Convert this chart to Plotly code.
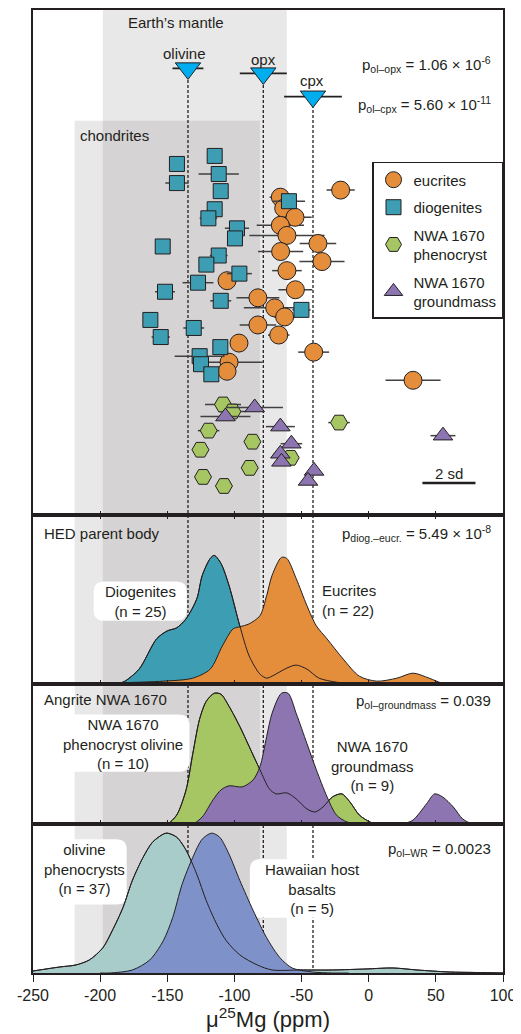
import plotly.graph_objects as go

# ---------------- data ----------------
X_TICKS = [-250, -200, -150, -100, -50, 0, 50, 100]
X_TICK_LABELS = ["-250", "-200", "-150", "-100", "-50", "0", "50", "100"]

# reference ranges (ppm)
MANTLE_RANGE = [-198, -61]
CHONDRITE_RANGE = [-219, -81]

# Earth's mantle minerals: mean, 2sd, vertical row
MINERALS = ["olivine", "opx", "cpx"]
MINERAL_MU = [-134.6, -78.5, -41.5]
MINERAL_ERR = [11.5, 17.5, 21.5]
MINERAL_ROW = [66, 71, 94]

# eucrites
EUC_MU = [-20.9, -65.8, -63.3, -54.9, -65.8, -60.9, -37.8, -65.6, -34.8, -60.9, -105.5,
          -54.6, -82.5, -70.0, -62.6, -82.5, -67.0, -96.6, -41.0, -104.0, -105.5, 33.0]
EUC_ERR = [10.5, 8, 0, 12.4, 17.6, 28, 13.6, 16.8, 16.8, 11, 6,
           12.6, 16, 23, 8, 13.6, 8, 0, 11.5, 25, 0, 20.5]
EUC_ROW = [187, 194, 205, 214, 222, 232, 240, 248, 258, 267, 277,
           286, 294, 304, 313, 321, 331, 339, 348, 358, 367, 376]

# diogenites
DIO_MU = [-142.8, -114.7, -142.8, -111.7, -110.2, -114.7, -119.4, -98.1, -99.6, -153.4, -111.7,
          -120.9, -96.3, -127.1, -151.7, -110.2, -50.1, -162.6, -59.4, -130.3, -154.9, -110.5,
          -125.9, -124.9, -117.2]
DIO_ERR = [4, 0, 8.7, 15, 0, 0, 6.5, 9, 0, 0, 6.6,
           0, 9.3, 11.5, 7.4, 7.8, 6.8, 0, 12, 7.8, 6.8, 0,
           18.6, 0, 0]
DIO_ROW = [161, 153, 180, 171, 188, 206, 215, 225, 235, 243, 252,
           261, 270, 279, 288, 297, 306, 316, 198, 324, 333, 343,
           352, 360, 370]

# NWA 1670 phenocryst olivine
PHE_MU = [-108.5, -101.5, -119.2, -86.6, -125.3, -58.1, -88.6, -123.4, -107.8, -22.1]
PHE_ERR = [13.4, 10, 8, 0, 0, 0, 0, 0, 0, 8]
PHE_ROW = [400, 407, 426, 437, 445, 453, 463, 472, 481, 418]

# NWA 1670 groundmass
GRD_MU = [-84.9, -106.7, -65.8, -57.6, -65.8, -65.0, -40.7, -45.2, 55.3]
GRD_ERR = [21, 18.6, 10.8, 8, 5, 0, 0, 0, 9.3]
GRD_ROW = [403, 412, 422, 439, 449, 457, 466, 476, 431]

# density curves (ppm, relative density)
DIO_KDE_X = [-190, -183, -171, -158, -150, -143, -136, -128, -124, -118, -115, -110, -104,
             -96, -89, -81, -76, -72, -61, -54, -46, -37, -24, -15]
DIO_KDE_Y = [0, 1, 14, 44, 52, 55, 64, 84, 107, 124, 127, 119, 97,
             57, 27, 9, 5, 7, 15, 18, 14, 5, 1, 0]
EUC_KDE_X = [-200, -153, -131, -118, -109, -101, -96, -89, -81, -76, -72, -65, -61, -54,
             -46, -39, -31, -19, -7, 6, 21, 33, 45, 55, 65]
EUC_KDE_Y = [0, 2, 5, 14, 37, 54, 56, 59, 67, 87, 107, 125, 124, 104,
             77, 57, 44, 24, 7, 2, 5, 10, 5, 0, 0]
PHE_KDE_X = [-155, -150, -143, -136, -131, -126, -121, -115, -110, -104, -96, -89, -81,
             -74, -69, -61, -54, -46, -40, -34, -27, -20, -14, -7, 1, 6]
PHE_KDE_Y = [0, 0, 9, 34, 70, 104, 122, 130, 129, 117, 97, 77, 54,
             35, 30, 31, 25, 15, 12, 17, 27, 30, 22, 9, 2, 0]
GRD_KDE_X = [-135, -131, -124, -116, -110, -104, -94, -86, -81, -76, -72, -65, -60, -54,
             -46, -39, -31, -24, -16, -5, 27, 33, 43, 49, 55, 63, 70, 77]
GRD_KDE_Y = [0, 0, 7, 24, 34, 38, 37, 44, 57, 87, 110, 130, 130, 110,
             80, 54, 27, 9, 2, 0, 1, 4, 20, 30, 27, 17, 5, 0]
HOL_KDE_X = [-250, -230, -218, -208, -198, -191, -183, -176, -168, -161, -153, -150, -143,
             -136, -128, -121, -113, -106, -96, -83, -72, -51, -27, -2, 18, 36, 60, 80, 100]
HOL_KDE_Y = [2, 6, 8, 13, 25, 42, 65, 92, 115, 130, 138, 139, 135,
             122, 98, 72, 48, 32, 18, 8, 3, 3, 3, 4, 5, 3, 1, 0.5, 0]
HWR_KDE_X = [-200, -193, -176, -163, -153, -146, -139, -131, -124, -117, -111, -104, -96,
             -86, -76, -66, -57, -42, -27, -15]
HWR_KDE_Y = [0, 0, 3, 13, 32, 55, 88, 115, 133, 139, 135, 118, 92,
             62, 35, 15, 5, 1, 0, 0]

SD2 = 39.5  # length of the 2 sd scale bar (ppm)

# ---------------- styling ----------------
FONT = "Liberation Sans, Arial, sans-serif"
INK = "#231f20"
C_EUC = "#e48e3c"
C_DIO = "#3d9db2"
C_PHE = "#a5c663"
C_GRD = "#8c75b0"
C_HOL = "#a8ccc9"
C_HWR = "#7f91c9"
C_MIN = "#00aeef"
C_ERR = "#414042"

# page body has an 8px margin, so the figure is sized to fit inside it
W, H = 513, 1026
ML, MR, MT, MB = 25, 18, 0, 61
# panel domains (fractions of plot height)
D4 = [0.0, 0.15465]
D3 = [0.15465, 0.29990]
D2 = [0.29990, 0.47544]
D1 = [0.47544, 1.0]
ROW_TOP, ROW_BOT = 8, 510


def row_to_paper(r):
    return D1[0] + (ROW_BOT - r) / (ROW_BOT - ROW_TOP) * (D1[1] - D1[0])


fig = go.Figure()


def scatter(name, mu, err, row, color, symbol, size):
    fig.add_trace(go.Scatter(
        x=mu, y=row, mode="markers", name=name, xaxis="x", yaxis="y",
        legendgroup=name,
        marker=dict(color=color, symbol=symbol, size=size,
                    line=dict(color=INK, width=1)),
        error_x=dict(type="data", array=err, visible=True, color=C_ERR,
                     thickness=1.5, width=0),
    ))


scatter("eucrites", EUC_MU, EUC_ERR, EUC_ROW, C_EUC, "circle", 18)
scatter("diogenites", DIO_MU, DIO_ERR, DIO_ROW, C_DIO, "square", 15)
scatter("NWA 1670<br>phenocryst", PHE_MU, PHE_ERR, PHE_ROW, C_PHE, "hexagon2", 17)
scatter("NWA 1670<br>groundmass", GRD_MU, GRD_ERR, GRD_ROW, C_GRD, "triangle-up", 17)

# Earth's mantle minerals
fig.add_trace(go.Scatter(
    x=MINERAL_MU, y=MINERAL_ROW, mode="markers", showlegend=False,
    xaxis="x", yaxis="y",
    marker=dict(color=C_MIN, symbol="triangle-down", size=22,
                line=dict(color=INK, width=1)),
    error_x=dict(type="data", array=MINERAL_ERR, visible=True, color=INK,
                 thickness=1.8, width=0),
))


def kde(xs, ys, color, ax, fill=True):
    fig.add_trace(go.Scatter(
        x=xs, y=ys, mode="lines", showlegend=False, hoverinfo="skip",
        xaxis="x" + ax, yaxis="y" + ax,
        fill="tozeroy" if fill else None,
        fillcolor=color if fill else None,
        line=dict(color=INK, width=1, shape="spline", smoothing=0.8),
    ))


kde(DIO_KDE_X, DIO_KDE_Y, C_DIO, "2")
kde(EUC_KDE_X, EUC_KDE_Y, C_EUC, "2")
kde(DIO_KDE_X, DIO_KDE_Y, C_DIO, "2", fill=False)
kde(PHE_KDE_X, PHE_KDE_Y, C_PHE, "3")
kde(GRD_KDE_X, GRD_KDE_Y, C_GRD, "3")
kde(PHE_KDE_X, PHE_KDE_Y, C_PHE, "3", fill=False)
kde(HOL_KDE_X, HOL_KDE_Y, C_HOL, "4")
kde(HWR_KDE_X, HWR_KDE_Y, C_HWR, "4")
kde(HOL_KDE_X, HOL_KDE_Y, C_HOL, "4", fill=False)

# ---------------- shapes ----------------
shapes = []
band = "rgba(35,31,32,0.1)"
shapes.append(dict(type="rect", xref="x", yref="paper", x0=MANTLE_RANGE[0], x1=MANTLE_RANGE[1],
                   y0=0, y1=1, fillcolor=band, line=dict(width=0), layer="below"))
shapes.append(dict(type="rect", xref="x", yref="paper", x0=CHONDRITE_RANGE[0], x1=CHONDRITE_RANGE[1],
                   y0=0, y1=row_to_paper(118), fillcolor=band, line=dict(width=0), layer="below"))
for mu, r in zip(MINERAL_MU, MINERAL_ROW):
    shapes.append(dict(type="line", xref="x", yref="paper", x0=mu, x1=mu,
                       y0=0, y1=row_to_paper(r), line=dict(color=INK, width=1.3, dash="3px,2px"),
                       layer="below"))


def rounded_box(ax, x0, x1, y0, y1, rx=7.4, ry=10):
    p = (f"M{x0 + rx},{y1} L{x1 - rx},{y1} Q{x1},{y1} {x1},{y1 - ry} "
         f"L{x1},{y0 + ry} Q{x1},{y0} {x1 - rx},{y0} L{x0 + rx},{y0} "
         f"Q{x0},{y0} {x0},{y0 + ry} L{x0},{y1 - ry} Q{x0},{y1} {x0 + rx},{y1} Z")
    return dict(type="path", xref="x" + ax, yref="y" + ax, path=p,
                fillcolor="white", line=dict(width=0), layer="below")


shapes.append(rounded_box("2", -204.8, -135.5, 62, 101))
shapes.append(rounded_box("3", -262, -133.5, 52, 109))
shapes.append(rounded_box("4", -262, -180.2, 68, 133))
shapes.append(rounded_box("4", -88.5, 6, 55, 113))
# 2 sd scale bar
shapes.append(dict(type="line", xref="x", yref="y", x0=40, x1=40 + SD2, y0=478, y1=478,
                   line=dict(color=INK, width=2.5)))

# ---------------- annotations ----------------
ann = []


def text(t, x, y, ax="", xanchor="center", size=15, align="center"):
    ann.append(dict(text=t, x=x, y=y, xref="x" + ax, yref="y" + ax, showarrow=False,
                    xanchor=xanchor, yanchor="middle", align=align,
                    font=dict(family=FONT, size=size, color=INK)))


text("Earth’s mantle", -143.3, 20)
text("chondrites", -189.2, 133)
for name, x, y in zip(MINERALS, [-137.3, -78, -42.5], [51, 57, 78]):
    text(name, x, y)
text("p<sub>ol–opx</sub> = 1.06 × 10<sup>-6</sup>", 92.5, 62, xanchor="right")
text("p<sub>ol–cpx</sub> = 5.60 × 10<sup>-11</sup>", 92.5, 102, xanchor="right")
text("2 sd", 59.5, 469)

text("HED parent body", -243.5, 149, "2", xanchor="left")
text("p<sub>diog.–eucr.</sub> = 5.49 × 10<sup>-8</sup>", 92.5, 149, "2", xanchor="right")
text("Diogenites<br>(n = 25)", -170, 81.5, "2")
text("Eucrites<br>(n = 22)", -36.5, 82, "2", xanchor="left", align="left")

text("Angrite NWA 1670", -243.5, 124, "3", xanchor="left")
text("p<sub>ol–groundmass</sub> = 0.039", 92.5, 122, "3", xanchor="right")
text("NWA 1670<br>phenocryst olivine<br>(n = 10)", -183.2, 79.5, "3")
text("NWA 1670<br>groundmass<br>(n = 9)", 3, 58, "3")

text("olivine<br>phenocrysts<br>(n = 37)", -211.5, 103.5, "4")
text("Hawaiian host<br>basalts<br>(n = 5)", -41.7, 83, "4")
text("p<sub>ol–WR</sub> = 0.0023", 92.5, 123, "4", xanchor="right")


# ---------------- axes ----------------
def xaxis(anchor, ticks, mirror, title=None, labels=False, ticklen=4):
    d = dict(anchor=anchor, range=[-250, 100], showline=True, linecolor=INK, linewidth=1.5,
             mirror=mirror, ticks=ticks, ticklen=ticklen, tickcolor=INK, tickwidth=1.3,
             tickvals=X_TICKS, showticklabels=labels,
             showgrid=False, zeroline=False, fixedrange=True,
             tickfont=dict(family=FONT, size=16, color=INK))
    if labels:
        d["ticktext"] = X_TICK_LABELS
    if title:
        d["title"] = dict(text=title, font=dict(family=FONT, size=22, color=INK), standoff=8)
    return d


def yaxis(anchor, dom, rng):
    return dict(anchor=anchor, domain=dom, range=rng, showline=True, linecolor=INK,
                linewidth=1.5, mirror=True, showticklabels=False, ticks="",
                showgrid=False, zeroline=False, fixedrange=True)


fig.update_layout(
    width=W, height=H,
    margin=dict(l=ML, r=MR, t=MT, b=MB),
    paper_bgcolor="white", plot_bgcolor="rgba(0,0,0,0)",
    font=dict(family=FONT, color=INK),
    xaxis=xaxis("y", "inside", True),
    xaxis2=xaxis("y2", "inside", "ticks"),
    xaxis3=xaxis("y3", "inside", True),
    xaxis4=xaxis("y4", "outside", True, title="μ<sup>25</sup>Mg (ppm)", labels=True, ticklen=7),
    yaxis=yaxis("x", D1, [ROW_BOT, ROW_TOP]),
    yaxis2=yaxis("x2", D2, [-1, 167]),
    yaxis3=yaxis("x3", D3, [0, 139]),
    yaxis4=yaxis("x4", D4, [0, 148]),
    shapes=shapes,
    annotations=ann,
    legend=dict(x=1, xanchor="right", y=row_to_paper(159), yanchor="top",
                bgcolor="white", bordercolor=INK, borderwidth=1.5,
                font=dict(family=FONT, size=15, color=INK),
                tracegroupgap=5, itemsizing="trace"),
    showlegend=True,
)

fig.write_html("out.html")
